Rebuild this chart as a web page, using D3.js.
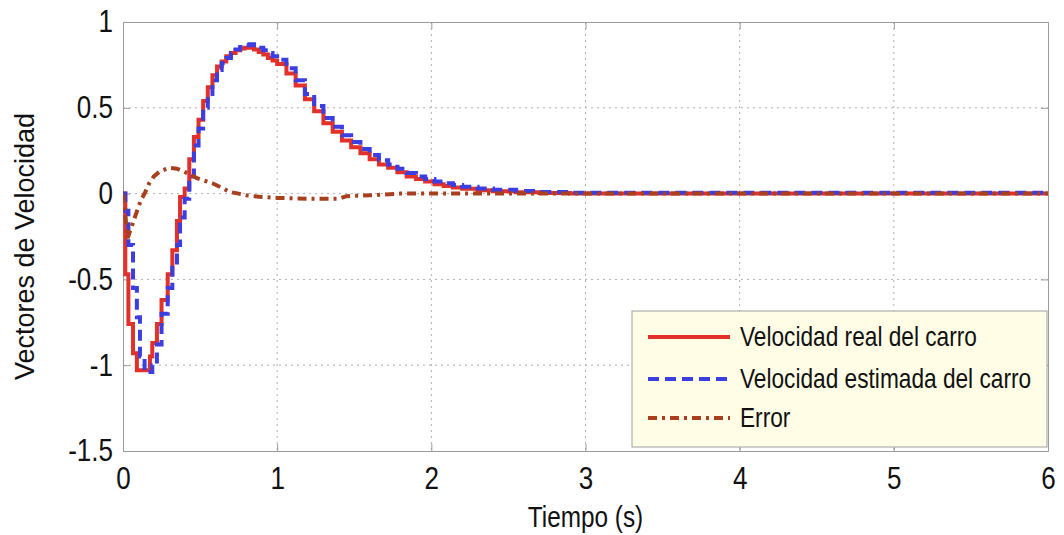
<!DOCTYPE html>
<html>
<head>
<meta charset="utf-8">
<script src="https://cdn.jsdelivr.net/npm/d3@7.9.0/dist/d3.min.js"></script>
<style>
  body { margin: 0; background: #fff; }
  svg { display: block; }
  text { font-family: "Liberation Sans", Arial, sans-serif; }
</style>
</head>
<body>
<svg id="chart" width="1064" height="535"></svg>
<script>
// sample times of the held (stepped) velocity signals, seconds
const stepTimes = [0, 0.015, 0.035, 0.065, 0.09, 0.11, 0.14, 0.175, 0.19, 0.22, 0.25, 0.29, 0.32, 0.35, 0.37,
  0.40, 0.43, 0.46, 0.49, 0.52, 0.55, 0.58, 0.61, 0.64, 0.67, 0.70, 0.73, 0.76, 0.79, 0.82, 0.85,
  0.88, 0.91, 0.94, 0.97, 1.00, 1.06, 1.12, 1.18, 1.24, 1.30, 1.36, 1.42, 1.48, 1.54, 1.60, 1.66,
  1.72, 1.78, 1.84, 1.90, 1.96, 2.02, 2.08, 2.14, 2.20, 2.30, 2.40, 2.55, 2.70, 2.90, 6.0];

const velReal = [0, -0.47, -0.76, -0.93, -1.03, -1.03, -1.03, -0.95, -0.87, -0.76, -0.62, -0.47, -0.33, -0.16, -0.02,
  0.03, 0.20, 0.33, 0.43, 0.54, 0.62, 0.69, 0.74, 0.77, 0.80, 0.82, 0.835, 0.845, 0.85, 0.85, 0.84,
  0.825, 0.81, 0.79, 0.775, 0.755, 0.70, 0.63, 0.55, 0.48, 0.41, 0.36, 0.31, 0.27, 0.235, 0.20, 0.17,
  0.15, 0.125, 0.10, 0.085, 0.07, 0.055, 0.045, 0.035, 0.028, 0.02, 0.013, 0.008, 0.004, 0, 0];

const velEst = [0, -0.10, -0.30, -0.55, -0.72, -0.95, -1.04, -1.04, -1.0, -0.88, -0.70, -0.55, -0.42, -0.30, -0.14,
  -0.03, 0.10, 0.28, 0.38, 0.50, 0.58, 0.66, 0.72, 0.76, 0.79, 0.82, 0.84, 0.855, 0.865, 0.87, 0.865,
  0.85, 0.835, 0.82, 0.80, 0.78, 0.73, 0.66, 0.58, 0.51, 0.44, 0.39, 0.34, 0.30, 0.26, 0.225, 0.195,
  0.17, 0.145, 0.12, 0.10, 0.085, 0.07, 0.06, 0.05, 0.04, 0.03, 0.022, 0.015, 0.01, 0.005, 0];

const errTimes = [0, 0.03, 0.08, 0.115, 0.14, 0.17, 0.20, 0.24, 0.30, 0.35, 0.39, 0.44, 0.48, 0.53,
  0.58, 0.64, 0.69, 0.75, 0.80, 0.90, 1.0, 1.2, 1.4, 1.45, 1.6, 1.8, 2.2, 3.0, 6.0];
const errVals = [0, -0.26, -0.13, -0.04, 0.0, 0.06, 0.10, 0.13, 0.15, 0.145, 0.13, 0.11, 0.09, 0.075,
  0.06, 0.035, 0.01, 0.0, -0.01, -0.02, -0.025, -0.03, -0.03, -0.015, -0.01, 0.0, 0.0, 0.0, 0.0];

const xTicks = [0, 1, 2, 3, 4, 5, 6];
const yTicks = [-1.5, -1, -0.5, 0, 0.5, 1];
const legendLabels = ["Velocidad real del carro", "Velocidad estimada del carro", "Error"];

const plotLeft = 123, plotRight = 1048, plotTop = 22, plotBottom = 451;
const squeeze = 0.84; // the figure's text is horizontally condensed

const svg = d3.select("#chart");
const x = d3.scaleLinear().domain([0, 6]).range([plotLeft, plotRight]);
const y = d3.scaleLinear().domain([-1.5, 1]).range([plotBottom, plotTop]);

// grid
const grid = svg.append("g").attr("stroke", "#b0b0b0").attr("stroke-width", 1).attr("stroke-dasharray", "2,4");
grid.selectAll(".gx").data(xTicks.slice(1, -1)).join("line")
  .attr("x1", d => x(d)).attr("x2", d => x(d)).attr("y1", plotTop).attr("y2", plotBottom);
grid.selectAll(".gy").data(yTicks.slice(1, -1)).join("line")
  .attr("x1", plotLeft).attr("x2", plotRight).attr("y1", d => y(d)).attr("y2", d => y(d));

// axes (ticks inward)
const fmt = d => String(d);
svg.append("g").attr("transform", `translate(0,${plotBottom})`)
  .call(d3.axisBottom(x).tickValues(xTicks).tickFormat(fmt).tickSizeInner(-7).tickSizeOuter(0).tickPadding(16));
svg.append("g").attr("transform", `translate(0,${plotTop})`)
  .call(d3.axisTop(x).tickValues(xTicks).tickFormat("").tickSizeInner(-7).tickSizeOuter(0));
const yAxis = svg.append("g").attr("transform", `translate(${plotLeft},0)`)
  .call(d3.axisLeft(y).tickValues(yTicks).tickFormat(fmt).tickSizeInner(-7).tickSizeOuter(0).tickPadding(8));
svg.append("g").attr("transform", `translate(${plotRight},0)`)
  .call(d3.axisRight(y).tickValues(yTicks).tickFormat("").tickSizeInner(-7).tickSizeOuter(0));

svg.selectAll(".domain, .tick line").attr("stroke", "#9a9a9a");
svg.selectAll(".tick text").attr("font-family", "Liberation Sans, Arial, sans-serif")
  .attr("font-size", 31).attr("fill", "#111").attr("transform", `scale(${squeeze},1)`);
yAxis.selectAll(".tick text").attr("x", -10 / squeeze);

// lines
const stepLine = d3.line().x(d => x(d[0])).y(d => y(d[1])).curve(d3.curveStepAfter);
const plainLine = d3.line().x(d => x(d[0])).y(d => y(d[1]));

svg.append("clipPath").attr("id", "clip").append("rect")
  .attr("x", plotLeft).attr("y", plotTop).attr("width", plotRight - plotLeft).attr("height", plotBottom - plotTop);
const plot = svg.append("g").attr("clip-path", "url(#clip)");

plot.append("path").datum(d3.zip(stepTimes, velReal)).attr("d", stepLine)
  .attr("fill", "none").attr("stroke", "#e2302a").attr("stroke-width", 4);
plot.append("path").datum(d3.zip(stepTimes, velEst)).attr("d", stepLine)
  .attr("fill", "none").attr("stroke", "#3b3ee0").attr("stroke-width", 4).attr("stroke-dasharray", "11,6");
plot.append("path").datum(d3.zip(errTimes, errVals)).attr("d", plainLine)
  .attr("fill", "none").attr("stroke", "#a8401e").attr("stroke-width", 4).attr("stroke-dasharray", "9,5,3,5");

// legend
const lg = svg.append("g");
lg.append("rect").attr("x", 632).attr("y", 311).attr("width", 415).attr("height", 136)
  .attr("fill", "#fffde6").attr("stroke", "#a0a0a0").attr("stroke-width", 1);
const styles = [
  { c: "#e2302a", dash: null },
  { c: "#3b3ee0", dash: "11,6" },
  { c: "#a8401e", dash: "9,5,3,5" }
];
const rowY = [337, 379, 418];
legendLabels.forEach((lab, i) => {
  lg.append("line").attr("x1", 648).attr("x2", 730).attr("y1", rowY[i]).attr("y2", rowY[i])
    .attr("stroke", styles[i].c).attr("stroke-width", 4).attr("stroke-dasharray", styles[i].dash);
  lg.append("text").attr("transform", `translate(740,${rowY[i]}) scale(${squeeze},1)`)
    .attr("dy", "0.35em").attr("font-size", 27).attr("fill", "#111").text(lab);
});

// axis titles
svg.append("text").attr("transform", `translate(${(plotLeft + plotRight) / 2},527) scale(${squeeze},1)`)
  .attr("text-anchor", "middle").attr("font-size", 29).attr("fill", "#111").text("Tiempo (s)");
svg.append("text").attr("transform", `translate(34,${(plotTop + plotBottom) / 2 + 10}) rotate(-90)`)
  .attr("text-anchor", "middle").attr("font-size", 27).attr("fill", "#111").text("Vectores de Velocidad");
</script>
</body>
</html>
